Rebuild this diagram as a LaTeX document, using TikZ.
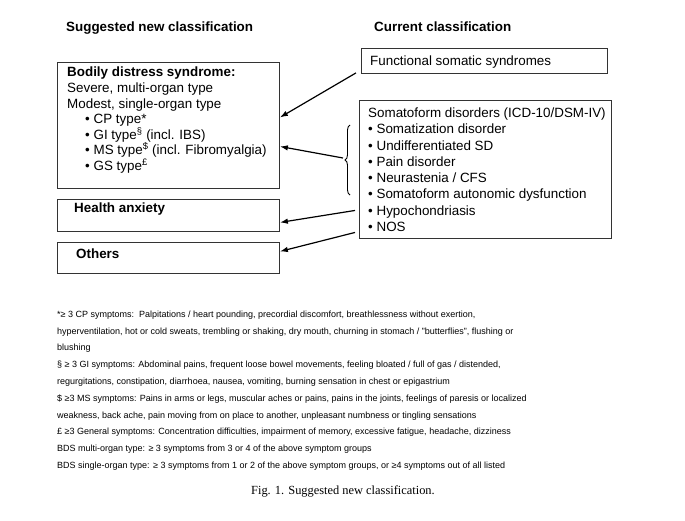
\documentclass[tikz,border=0pt]{standalone}
\usepackage{fontspec}
\setmainfont{Liberation Sans}
\newfontfamily\capfont{Liberation Serif}
\usetikzlibrary{decorations.pathreplacing,arrows.meta}

\tikzset{
  box/.style={draw=black!80, line width=0.9pt, inner sep=0pt, anchor=north west},
  boxtext/.style={anchor=north west, inner sep=0pt, align=left, font=\fontsize{13.4}{15.6}\selectfont},
  head/.style={anchor=west, inner sep=0pt, font=\fontsize{13.4}{16}\selectfont\bfseries},
  link/.style={-{Latex[length=8pt,width=5.5pt]}, line width=1.2pt},
}
\newcommand{\itm}{\hspace*{18pt}\textbullet\ }

\begin{document}
\begin{tikzpicture}[x=1pt,y=-1pt]
\useasboundingbox (0,0) rectangle (685,520);

% headings
\node[head] (newhead) at (66,28) {Suggested new classification};
\node[head] (curhead) at (374,27) {Current classification};

% suggested classification
\node[box, minimum width=222pt, minimum height=126pt] (bds) at (57,62) {};
\node[box, minimum width=222pt, minimum height=32pt] (anx) at (57,199) {};
\node[box, minimum width=222pt, minimum height=31pt] (oth) at (57,242) {};

\node[boxtext] (bdstext) at ([shift={(10,5)}]bds.north west) {\textbf{Bodily distress syndrome:}\\
  Severe, multi-organ type\\
  Modest, single-organ type\\
  \itm CP type*\\
  \itm GI type\textsuperscript{§} (incl. IBS)\\
  \itm MS type\textsuperscript{\$} (incl. Fibromyalgia)\\
  \itm GS type\textsuperscript{£}};
\node[boxtext] (anxtext) at ([shift={(17,4)}]anx.north west) {\textbf{Health anxiety}};
\node[boxtext] (othtext) at ([shift={(19,7)}]oth.north west) {\textbf{Others}};

% current classification
\node[box, minimum width=246pt, minimum height=25pt] (fss) at (361,48) {};
\node[box, minimum width=252pt, minimum height=138pt] (som) at (359,100) {};

\node[boxtext, anchor=west] (fsstext) at ([shift={(9pt,-1.5pt)}]fss.west) {Functional somatic syndromes};
\node[boxtext, font=\fontsize{13.4}{16.3}\selectfont] (somtext) at ([shift={(9,7.5)}]som.north west) {Somatoform disorders (ICD-10/DSM-IV)\\
  \textbullet\ Somatization disorder\\
  \textbullet\ Undifferentiated SD\\
  \textbullet\ Pain disorder\\
  \textbullet\ Neurastenia / CFS\\
  \textbullet\ Somatoform autonomic dysfunction\\
  \textbullet\ Hypochondriasis\\
  \textbullet\ NOS};

% brace and arrows
\draw[decorate, decoration={brace, amplitude=5pt}, line width=0.9pt] (350,195) -- (350,125);
\coordinate (brace) at (343,158);
\draw[link] ([shift={(-5pt,1pt)}]fss.south west) -- ([yshift=8pt]bds.east);
\draw[link] (brace) -- ([yshift=-21pt]bds.east);
\draw[link] ([shift={(-4pt,-41pt)}]som.west) -- ([yshift=-7pt]anx.east);
\draw[link] ([shift={(-4pt,-63pt)}]som.west) -- ([yshift=6.5pt]oth.east);

% footnotes
\node[anchor=north west, inner sep=0pt, align=left, font=\fontsize{9}{16.8}\selectfont] (notes) at (57,310.5) {*≥ 3 CP symptoms:\ \ Palpitations / heart pounding, precordial discomfort, breathlessness without exertion,\\
  hyperventilation, hot or cold sweats, trembling or shaking, dry mouth, churning in stomach / "butterflies", flushing or\\
  blushing\\
  § ≥ 3 GI symptoms: Abdominal pains, frequent loose bowel movements, feeling bloated / full of gas / distended,\\
  regurgitations, constipation, diarrhoea, nausea, vomiting, burning sensation in chest or epigastrium\\
  \$ ≥3 MS symptoms: Pains in arms or legs, muscular aches or pains, pains in the joints, feelings of paresis or localized\\
  weakness, back ache, pain moving from on place to another, unpleasant numbness or tingling sensations\\
  £ ≥3 General symptoms: Concentration difficulties, impairment of memory, excessive fatigue, headache, dizziness\\
  BDS multi-organ type: ≥ 3 symptoms from 3 or 4 of the above symptom groups\\
  BDS single-organ type: ≥ 3 symptoms from 1 or 2 of the above symptom groups, or ≥4 symptoms out of all listed};

% caption
\node[anchor=west, inner sep=0pt, font=\capfont\fontsize{12.4}{14}\selectfont] (cap) at (251,491) {Fig. 1. Suggested new classification.};
\end{tikzpicture}
\end{document}
